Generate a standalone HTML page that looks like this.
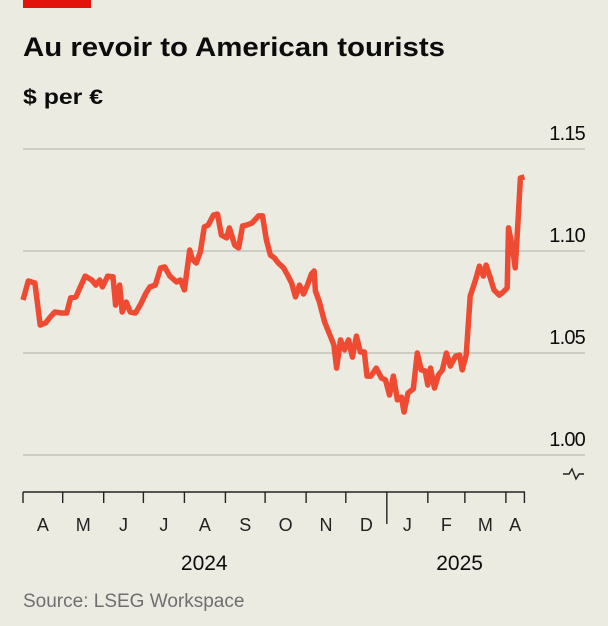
<!DOCTYPE html>
<html><head><meta charset="utf-8"><style>
body{margin:0;background:#ecebe2;}
svg{display:block;font-family:"Liberation Sans",sans-serif;}
</style></head><body>
<svg id="chart" width="608" height="626" viewBox="0 0 608 626">
<rect x="0" y="0" width="608" height="626" fill="#ecebe2"/>
<rect x="23" y="0" width="68" height="8" fill="#e3120b"/>
<text x="23" y="56" font-size="27" font-weight="bold" fill="#0c0c0c" textLength="422" lengthAdjust="spacingAndGlyphs">Au revoir to American tourists</text>
<text x="23" y="104" font-size="21" font-weight="bold" fill="#0c0c0c" textLength="80" lengthAdjust="spacingAndGlyphs">$ per €</text>
<g id="grid"></g>
<g id="xaxis"></g>
<path d="M563 474 L569 474 L572 469 L576 479 L579 474 L584 474" fill="none" stroke="#222" stroke-width="1.4"/>
<path id="line" fill="none" stroke="#ef4b33" stroke-width="5.5" stroke-linejoin="round" stroke-linecap="butt"/>
<text x="23" y="607" font-size="19" fill="#6f6f6f">Source: LSEG Workspace</text>
</svg>
<script>
const days=[0,4,9,13,17,20,24,29,33,36,40,43,47,52,55,58,60,64,68,70,73,75,78,81,85,89,93,96,100,104,107,111,116,119,122,126,128,131,134,137,140,144,147,150,154,156,160,163,166,169,173,178,181,184,187,190,193,197,200,203,206,209,212,215,218,220,221,224,228,232,235,237,240,243,246,249,252,255,258,260,263,267,271,274,277,280,283,286,288,291,295,298,301,304,306,308,311,314,317,320,323,327,330,332,335,338,342,345,348,350,353,356,360,363,366,367,370,372,374,376,379];
const values=[1.076,1.0853,1.0843,1.0637,1.0647,1.0672,1.0701,1.0696,1.0696,1.077,1.0775,1.0819,1.0877,1.0858,1.0833,1.0858,1.0824,1.0877,1.0873,1.0735,1.0833,1.0701,1.075,1.0701,1.0696,1.074,1.0794,1.0824,1.0833,1.0917,1.0922,1.0877,1.0848,1.0858,1.0809,1.1005,1.0961,1.0941,1.0995,1.1118,1.1127,1.1176,1.1181,1.1078,1.1064,1.1113,1.1029,1.1015,1.1123,1.1127,1.1137,1.1172,1.1172,1.1054,1.098,1.0966,1.0941,1.0917,1.0882,1.0843,1.0775,1.0833,1.0789,1.0833,1.0887,1.0902,1.0804,1.075,1.0652,1.0588,1.0539,1.0426,1.0564,1.0515,1.0564,1.048,1.0583,1.0505,1.0505,1.0387,1.0387,1.0426,1.0377,1.0368,1.0294,1.0387,1.027,1.0284,1.0211,1.0304,1.0324,1.05,1.0417,1.0412,1.0343,1.0426,1.0328,1.0392,1.0417,1.05,1.0436,1.0485,1.049,1.0417,1.049,1.0779,1.0858,1.0926,1.0877,1.0931,1.0873,1.0809,1.0784,1.0799,1.0819,1.1113,1.1015,1.0917,1.1127,1.1358,1.1363];
const yTicks=[1.00,1.05,1.10,1.15];
const yTickLabels=["1.00","1.05","1.10","1.15"];
const monthLabels=["A","M","J","J","A","S","O","N","D","J","F","M","A"];
const monthStartDays=[0,30,61,91,122,153,183,214,244,275,306,334,365];
const yearLabels=["2024","2025"];
const yearCenterDays=[137,330];
const NS="http://www.w3.org/2000/svg";
const x=d=>23+d*1.323;
const y=v=>455-(v-1)*2040;
function mk(tag,attrs,parent){const e=document.createElementNS(NS,tag);for(const k in attrs)e.setAttribute(k,attrs[k]);parent.appendChild(e);return e;}
const grid=document.getElementById('grid');
yTicks.forEach((v,i)=>{
  const l=mk('line',{x1:23,x2:585,y1:y(v),y2:y(v),stroke:'#c4c3bb','stroke-width':1.5},grid);
  
  
  const t=mk('text',{x:585,y:y(v)-9,'text-anchor':'end','font-size':20,fill:'#0c0c0c','letter-spacing':'-0.8'},grid);
  t.textContent=yTickLabels[i];
  
  
});
const ax=document.getElementById('xaxis');
const axl=mk('line',{x1:23,x2:x(379)+0.5,y1:492,y2:492,stroke:'#222','stroke-width':1.6},ax);


const allT=monthStartDays.concat([379]);
allT.forEach((d,i)=>{
  const tk=mk('line',{x1:x(d),x2:x(d),y1:492,y2:d===275?524:503,stroke:'#222','stroke-width':1.4},ax);
  
  
});
monthLabels.forEach((m,i)=>{
  const nd=i+1<monthStartDays.length?monthStartDays[i+1]:379;
  const t=mk('text',{x:(x(monthStartDays[i])+x(nd))/2,y:531,'text-anchor':'middle','font-size':18,fill:'#222'},ax);
  t.textContent=m;
  
  
});
yearLabels.forEach((yr,i)=>{
  const t=mk('text',{x:x(yearCenterDays[i]),y:570,'text-anchor':'middle','font-size':21,fill:'#0c0c0c'},ax);
  t.textContent=yr;
  
  
});
document.getElementById('line').setAttribute('d',days.map((d,i)=>(i?'L':'M')+x(d).toFixed(1)+' '+y(values[i]).toFixed(1)).join(' '));
</script>
</body></html>
